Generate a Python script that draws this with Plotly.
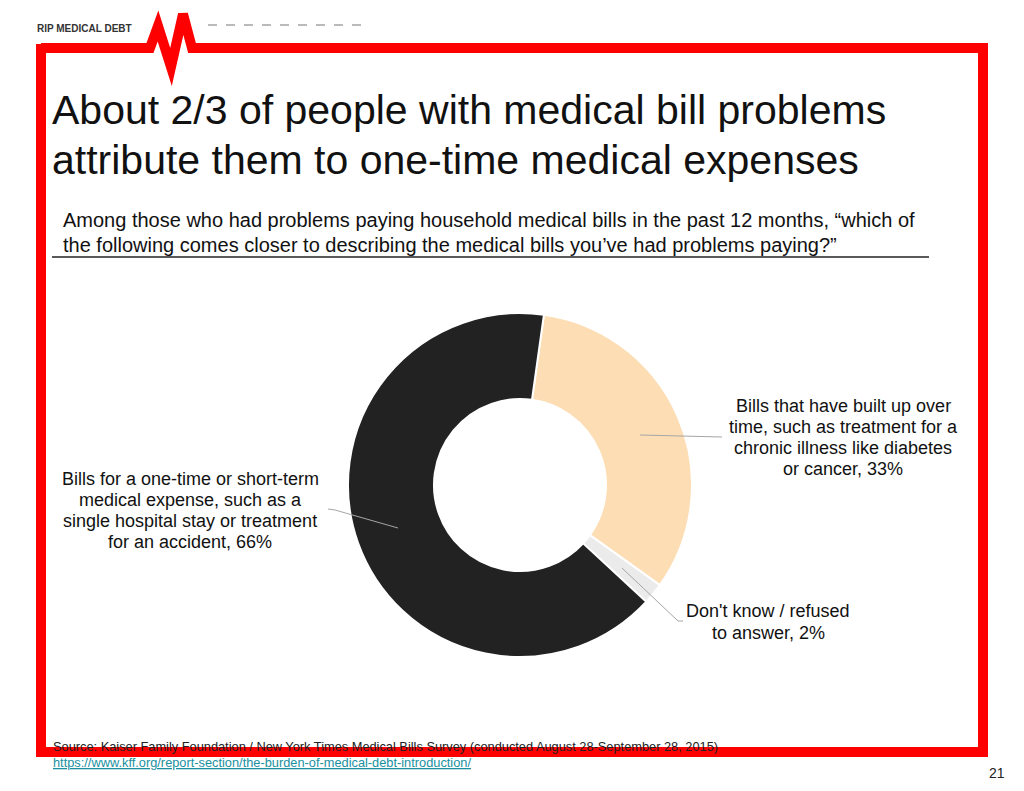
import plotly.graph_objects as go

W, H = 1024, 791

# ---- data ----
categories = [
    "Bills that have built up over<br>time, such as treatment for a<br>chronic illness like diabetes<br>or cancer",
    "Don't know / refused<br>to answer",
    "Bills for a one-time or short-term<br>medical expense, such as a<br>single hospital stay or treatment<br>for an accident",
]
values = [33, 2, 66]
colors = ["#FDDDB3", "#EBEBEB", "#222222"]

title_lines = ["About 2/3 of people with medical bill problems",
               "attribute them to one-time medical expenses"]
subtitle_lines = ["Among those who had problems paying household medical bills in the past 12 months, \u201cwhich of",
                  "the following comes closer to describing the medical bills you\u2019ve had problems paying?\u201d"]
source_text = "Source: Kaiser Family Foundation / New York Times Medical Bills Survey (conducted August 28-September 28, 2015)"
url_text = "https://www.kff.org/report-section/the-burden-of-medical-debt-introduction/"
page_no = "21"


def px(x):
    return x / W


def py(y):
    return 1 - y / H


cx, cy, R = 520, 485, 172

fig = go.Figure()
fig.add_trace(go.Pie(
    values=values,
    labels=[c.replace("<br>", " ") for c in categories],
    marker=dict(colors=colors, line=dict(color="white", width=2)),
    hole=0.5,
    sort=False,
    direction="clockwise",
    rotation=8,
    textinfo="none",
    hoverinfo="label+percent",
    showlegend=False,
    domain=dict(x=[px(cx - R), px(cx + R)], y=[py(cy + R), py(cy - R)]),
))

shapes = []
red = "#FF0000"
# red frame with heartbeat zigzag
frame_pts = [(41, 48), (150, 48), (158, 26), (171, 67), (183, 14), (192, 48), (983, 48),
             (983, 752), (41, 752), (41, 44)]
path = "M " + " L ".join(f"{px(x)},{py(y)}" for x, y in frame_pts)
shapes.append(dict(type="path", path=path, xref="paper", yref="paper",
                   line=dict(color=red, width=10), layer="below"))
# faint clipped tagline
shapes.append(dict(type="line", xref="paper", yref="paper", x0=px(208), x1=px(365), y0=py(25), y1=py(25),
                   line=dict(color="#777777", width=1.2, dash="dash")))
# subtitle underline
shapes.append(dict(type="line", xref="paper", yref="paper", x0=px(52), x1=px(929), y0=py(257), y1=py(257),
                   line=dict(color="#222222", width=1.5)))
# leader lines
leader = [
    [(640, 435), (722, 437)],
    [(622, 568), (678, 621), (683, 621)],
    [(398, 528), (335, 510), (328, 509)],
]
for pts in leader:
    p = "M " + " L ".join(f"{px(x)},{py(y)}" for x, y in pts)
    shapes.append(dict(type="path", path=p, xref="paper", yref="paper",
                       line=dict(color="#A6A6A6", width=1)))

font = "Liberation Sans, Arial, sans-serif"
ann = []
ann.append(dict(text="<b>RIP MEDICAL DEBT</b>", x=px(35), y=py(29), xanchor="left", yanchor="middle",
                font=dict(family=font, size=10, color="#333333")))
for i, t in enumerate(title_lines):
    ann.append(dict(text=t, x=px(50), y=py(110 + 50 * i), xanchor="left", yanchor="middle",
                    font=dict(family=font, size=41, color="#111111")))
for i, t in enumerate(subtitle_lines):
    ann.append(dict(text=t, x=px(61), y=py(220 + 25 * i), xanchor="left", yanchor="middle",
                    font=dict(family=font, size=20, color="#111111")))

label_pos = [(843, 406), (768, 611), (190, 479)]
label_step = [21, 22, 21]
pcts = [f"{v}%" for v in values]
for c, p, (lx, ly), st in zip(categories, pcts, label_pos, label_step):
    lines = c.split("<br>")
    lines[-1] = f"{lines[-1]}, {p}"
    for j, ln in enumerate(lines):
        ann.append(dict(text=ln, x=px(lx), y=py(ly + st * j), xanchor="center", yanchor="middle",
                        font=dict(family=font, size=18, color="#111111")))

ann.append(dict(text=source_text, x=px(51), y=py(746), xanchor="left", yanchor="middle",
                font=dict(family="Liberation Sans Narrow, Arial Narrow, " + font, size=12.8, color="#222222")))
ann.append(dict(text=f"<u>{url_text}</u>", x=px(51), y=py(762), xanchor="left", yanchor="middle",
                font=dict(family="Liberation Sans Narrow, Arial Narrow, " + font, size=12.8, color="#1A8FA0")))
ann.append(dict(text=page_no, x=px(997), y=py(773), xanchor="center", yanchor="middle",
                font=dict(family=font, size=14, color="#222222")))
for a in ann:
    a.update(xref="paper", yref="paper", showarrow=False)

fig.update_layout(
    width=W, height=H,
    margin=dict(l=0, r=0, t=0, b=0),
    paper_bgcolor="white", plot_bgcolor="white",
    shapes=shapes, annotations=ann,
)

fig.write_html("out.html", config={"displayModeBar": False},
               post_script="document.body.style.margin='0';document.body.style.overflow='hidden';")
